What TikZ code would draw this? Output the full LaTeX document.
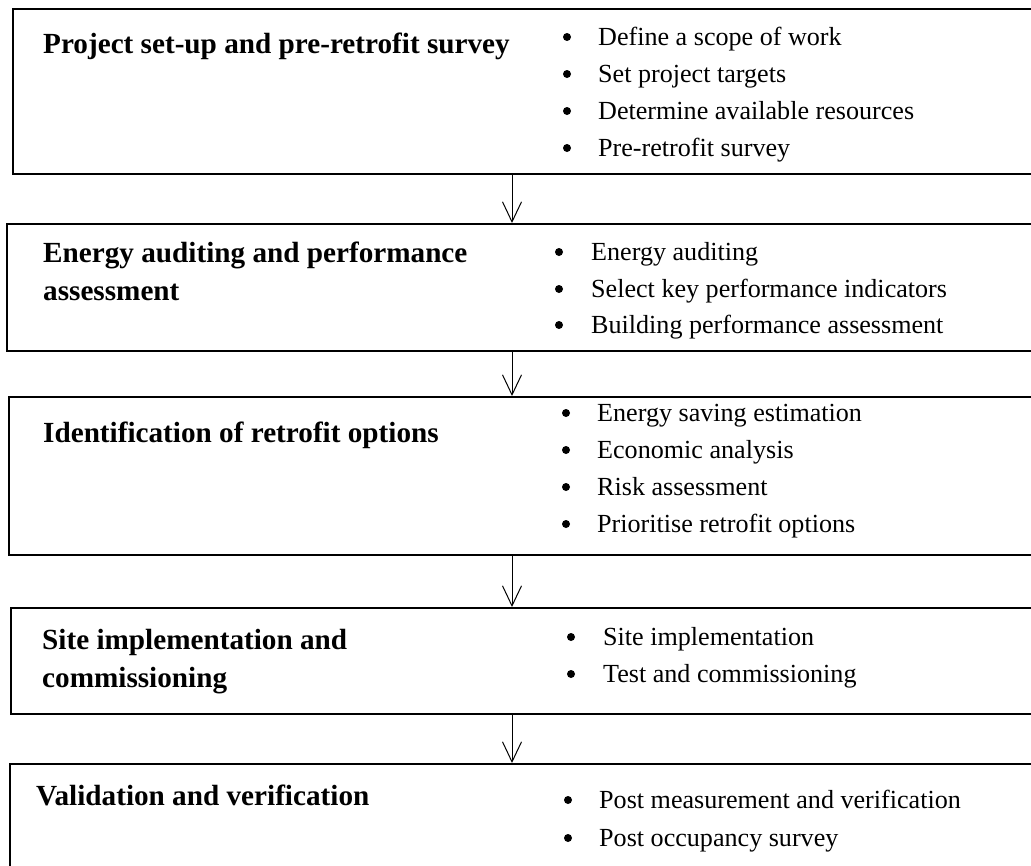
\documentclass[tikz,border=0pt]{standalone}
\usepackage{fontspec}
\setmainfont{Liberation Serif}
\usetikzlibrary{positioning,arrows.meta}

\begin{document}
\begin{tikzpicture}[x=1pt, y=-1pt, >={Straight Barb[length=20pt,width=19pt]},
	stagebox/.style = {draw, line width=2pt, anchor=north west, minimum width=1040pt, inner sep=0pt},
	title/.style = {anchor=base west, inner sep=0pt, align=left, font=\fontsize{29.2}{38}\selectfont\bfseries},
	item/.style = {anchor=base west, inner sep=0pt, font=\fontsize{26.1}{37}\selectfont},
	dot/.style = {circle, fill, inner sep=0pt, minimum size=8pt}]
	\useasboundingbox (0,0) rectangle (1031,865);
	\clip (0,0) rectangle (1031,865);

	% Stages
	\node[stagebox, minimum height=165pt] (b1) at (12,8) {};
	\node[stagebox, minimum height=127pt] (b2) at (6,223) {};
	\node[stagebox, minimum height=158pt] (b3) at (8,396) {};
	\node[stagebox, minimum height=106pt] (b4) at (10,607) {};
	\node[stagebox, minimum height=130pt] (b5) at (9,763) {};

	% (base of a two-line title is its last line)
	\node[title] (T1) at (43,53) {Project set-up and pre-retrofit survey};
	\node[title] (T2) at (43,300) {Energy auditing and performance\\assessment};
	\node[title] (T3) at (43,442) {Identification of retrofit options};
	\node[title] (T4) at (42,687) {Site implementation and\\commissioning};
	\node[title] (T5) at (36,805) {Validation and verification};

	% Tasks
	\node[item] (I11) at (598,45) {Define a scope of work};
	\node[item] (I12) at (598,82) {Set project targets};
	\node[item] (I13) at (598,119) {Determine available resources};
	\node[item] (I14) at (598,156) {Pre-retrofit survey};

	\node[item] (I21) at (591,260) {Energy auditing};
	\node[item] (I22) at (591,297) {Select key performance indicators};
	\node[item] (I23) at (591,333) {Building performance assessment};

	\node[item] (I31) at (597,421) {Energy saving estimation};
	\node[item] (I32) at (597,458) {Economic analysis};
	\node[item] (I33) at (597,495) {Risk assessment};
	\node[item] (I34) at (597,532) {Prioritise retrofit options};

	\node[item] (I41) at (603,645) {Site implementation};
	\node[item] (I42) at (603,682) {Test and commissioning};

	\node[item] (I51) at (599,808) {Post measurement and verification};
	\node[item] (I52) at (599,846) {Post occupancy survey};

	% Bullets
	\node[dot] (D11) at ([xshift=-31pt, yshift=8pt]I11.base west) {};
	\node[dot] (D12) at ([xshift=-31pt, yshift=8pt]I12.base west) {};
	\node[dot] (D13) at ([xshift=-31pt, yshift=8pt]I13.base west) {};
	\node[dot] (D14) at ([xshift=-31pt, yshift=8pt]I14.base west) {};
	\node[dot] (D21) at ([xshift=-32pt, yshift=8pt]I21.base west) {};
	\node[dot] (D22) at ([xshift=-32pt, yshift=8pt]I22.base west) {};
	\node[dot] (D23) at ([xshift=-32pt, yshift=8pt]I23.base west) {};
	\node[dot] (D31) at ([xshift=-31pt, yshift=8pt]I31.base west) {};
	\node[dot] (D32) at ([xshift=-31pt, yshift=8pt]I32.base west) {};
	\node[dot] (D33) at ([xshift=-31pt, yshift=8pt]I33.base west) {};
	\node[dot] (D34) at ([xshift=-31pt, yshift=8pt]I34.base west) {};
	\node[dot] (D41) at ([xshift=-32pt, yshift=8pt]I41.base west) {};
	\node[dot] (D42) at ([xshift=-32pt, yshift=8pt]I42.base west) {};
	\node[dot] (D51) at ([xshift=-31pt, yshift=8pt]I51.base west) {};
	\node[dot] (D52) at ([xshift=-31pt, yshift=8pt]I52.base west) {};

	% Flow
	\coordinate (axis) at (512,0);
	\draw[->, line width=1pt] (b1.south -| axis) -- (b2.north -| axis);
	\draw[->, line width=1pt] (b2.south -| axis) -- (b3.north -| axis);
	\draw[->, line width=1pt] (b3.south -| axis) -- (b4.north -| axis);
	\draw[->, line width=1pt] (b4.south -| axis) -- (b5.north -| axis);

\end{tikzpicture}
\end{document}
